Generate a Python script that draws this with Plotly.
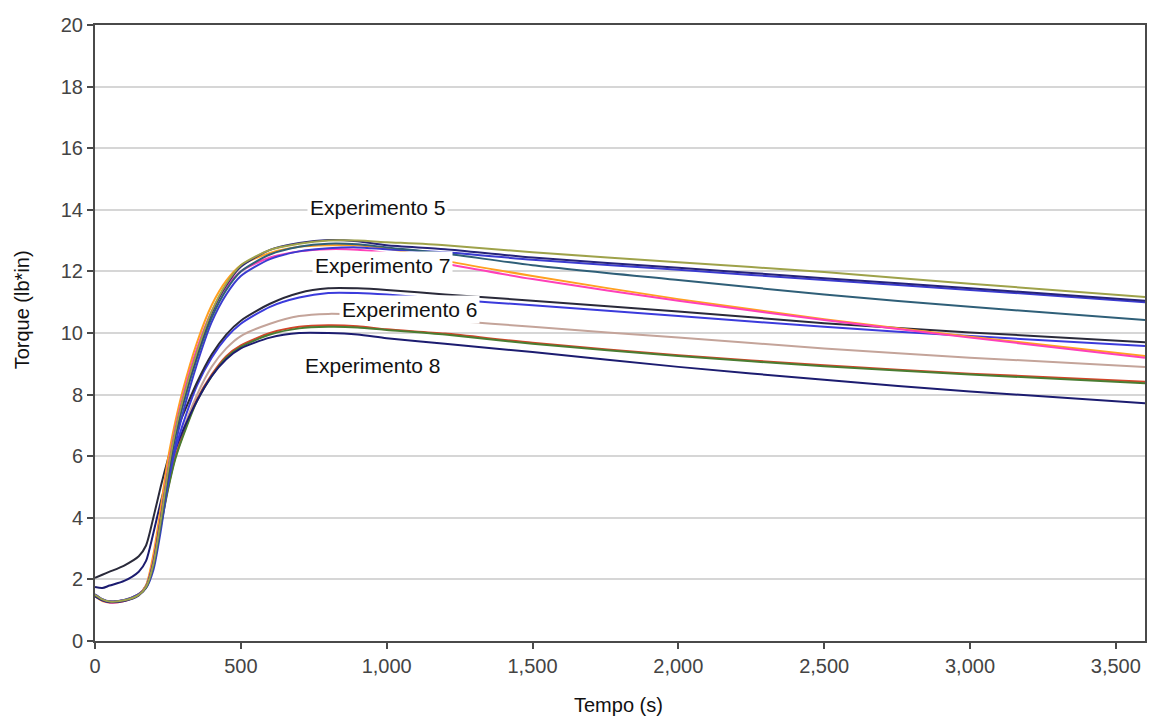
import plotly.graph_objects as go

# Time points (s)
tempo = [0, 25, 50, 100, 150, 175, 200, 225, 250, 275, 300, 350, 400, 450, 500,
         600, 700, 800, 900, 1000, 1200, 1500, 2000, 2500, 3000, 3600]

# Experimento 5 / 7 group
exp_oliva = [1.50, 1.35, 1.28, 1.32, 1.50, 1.75, 2.50, 3.90, 5.50, 6.80, 7.80, 9.40, 10.70, 11.60, 12.20,
             12.70, 12.90, 13.00, 13.00, 12.95, 12.85, 12.62, 12.30, 11.98, 11.60, 11.17]
exp_marinho = [1.45, 1.32, 1.26, 1.30, 1.48, 1.75, 2.55, 3.95, 5.45, 6.75, 7.75, 9.35, 10.65, 11.55, 12.15,
               12.70, 12.92, 13.02, 12.98, 12.85, 12.72, 12.45, 12.12, 11.78, 11.45, 11.05]
exp_azulpetroleo = [1.48, 1.33, 1.27, 1.31, 1.50, 1.72, 2.40, 3.70, 5.30, 6.60, 7.60, 9.20, 10.50, 11.40, 12.00,
                    12.55, 12.80, 12.90, 12.88, 12.78, 12.58, 12.20, 11.72, 11.25, 10.85, 10.42]
exp_magenta = [1.50, 1.32, 1.25, 1.30, 1.50, 1.75, 2.60, 4.00, 5.60, 6.90, 7.90, 9.50, 10.70, 11.50, 12.00,
               12.45, 12.65, 12.72, 12.70, 12.60, 12.25, 11.75, 11.05, 10.42, 9.85, 9.20]
exp_laranja = [1.45, 1.30, 1.25, 1.30, 1.50, 1.80, 2.80, 4.30, 5.90, 7.10, 8.10, 9.70, 10.90, 11.70, 12.20,
               12.60, 12.80, 12.85, 12.85, 12.75, 12.35, 11.85, 11.10, 10.45, 9.88, 9.25]
exp_azul_a = [1.52, 1.36, 1.29, 1.33, 1.52, 1.72, 2.30, 3.55, 5.10, 6.35, 7.35, 9.00, 10.35, 11.25, 11.85,
              12.40, 12.65, 12.75, 12.78, 12.72, 12.62, 12.38, 12.05, 11.72, 11.40, 11.00]

# Experimento 6 group
exp_preto_b = [2.05, 2.15, 2.25, 2.45, 2.75, 3.10, 4.00, 5.00, 5.90, 6.70, 7.30, 8.40, 9.30, 9.95, 10.40,
               10.95, 11.30, 11.45, 11.45, 11.40, 11.25, 11.05, 10.70, 10.32, 10.02, 9.70]
exp_azul_b = [1.50, 1.35, 1.28, 1.32, 1.50, 1.80, 2.60, 3.80, 5.10, 6.20, 7.00, 8.30, 9.20, 9.85, 10.30,
              10.85, 11.15, 11.30, 11.30, 11.25, 11.10, 10.90, 10.55, 10.20, 9.90, 9.58]
exp_castanho = [1.52, 1.36, 1.29, 1.33, 1.52, 1.78, 2.55, 3.75, 5.00, 6.00, 6.80, 8.00, 8.90, 9.50, 9.90,
                10.30, 10.55, 10.62, 10.60, 10.55, 10.42, 10.20, 9.85, 9.50, 9.20, 8.90]

# Experimento 8 group
exp_verde = [1.48, 1.33, 1.27, 1.31, 1.50, 1.76, 2.50, 3.70, 4.90, 5.90, 6.60, 7.80, 8.60, 9.20, 9.55,
             9.95, 10.15, 10.20, 10.18, 10.10, 9.95, 9.65, 9.25, 8.92, 8.65, 8.37]
exp_vermelho = [1.50, 1.34, 1.28, 1.32, 1.52, 1.78, 2.55, 3.75, 4.95, 5.95, 6.65, 7.85, 8.65, 9.25, 9.60,
                10.00, 10.20, 10.25, 10.22, 10.12, 9.98, 9.68, 9.28, 8.95, 8.68, 8.42]
exp_marinho_c = [1.75, 1.72, 1.80, 1.95, 2.25, 2.60, 3.50, 4.50, 5.40, 6.20, 6.80, 7.80, 8.60, 9.15, 9.50,
                 9.85, 10.00, 10.00, 9.95, 9.83, 9.65, 9.38, 8.90, 8.48, 8.10, 7.72]

series = [
    ("Castanho", exp_castanho, "#c4a49a"),
    ("Vermelho", exp_vermelho, "#d2452a"),
    ("Verde", exp_verde, "#4a7d32"),
    ("Marinho C", exp_marinho_c, "#1c1c70"),
    ("Azul B", exp_azul_b, "#3b3bdc"),
    ("Preto B", exp_preto_b, "#2a2a3a"),
    ("Laranja", exp_laranja, "#ffa020"),
    ("Magenta", exp_magenta, "#ff40b8"),
    ("Azul A", exp_azul_a, "#3b3bd0"),
    ("Azul petroleo", exp_azulpetroleo, "#2f5f78"),
    ("Marinho", exp_marinho, "#26237a"),
    ("Oliva", exp_oliva, "#9ea24a"),
]

fig = go.Figure()
for name, vals, col in series:
    fig.add_trace(go.Scatter(x=tempo, y=vals, mode="lines", name=name,
                             line=dict(color=col, width=2, shape="spline", smoothing=0.7),
                             showlegend=False, hoverinfo="skip"))

labels = [
    ("Experimento 5", 967, 14.09),
    ("Experimento 7", 984, 12.2),
    ("Experimento 6", 1077, 10.75),
    ("Experimento 8", 950, 8.96),
]
for txt, lx, ly in labels:
    fig.add_annotation(x=lx, y=ly, xref="x", yref="y", text=txt, showarrow=False,
                       font=dict(family="Liberation Sans, Arial", size=21, color="#111"),
                       bgcolor="white", borderpad=2)

fig.add_annotation(x=0.499, y=-0.104, xref="paper", yref="paper", text="Tempo (s)",
                   showarrow=False, yanchor="middle",
                   font=dict(family="Liberation Sans, Arial", size=20, color="#111"))
fig.add_annotation(x=-0.0694, y=0.537, xref="paper", yref="paper", text="Torque (lb*in)",
                   showarrow=False, textangle=-90, xanchor="center", yanchor="middle",
                   font=dict(family="Liberation Sans, Arial", size=20, color="#111"))

fig.update_xaxes(range=[0, 3600], tickvals=[0, 500, 1000, 1500, 2000, 2500, 3000, 3500],
                 tickformat=",d", showgrid=False, zeroline=False,
                 showline=True, linecolor="#4a4a4a", linewidth=2, mirror=True,
                 ticks="outside", ticklen=6, tickwidth=2, tickcolor="#4a4a4a",
                 tickfont=dict(family="Liberation Sans, Arial", size=20, color="#444"))
fig.update_yaxes(range=[0, 20], dtick=2, showgrid=True, gridcolor="#d6d6d6", gridwidth=1.5,
                 zeroline=False, showline=True, linecolor="#4a4a4a", linewidth=2, mirror=True,
                 ticks="outside", ticklen=6, tickwidth=2, tickcolor="#4a4a4a",
                 tickfont=dict(family="Liberation Sans, Arial", size=20, color="#444"))

fig.update_layout(width=1150, height=719, margin=dict(l=95, r=3, t=25, b=78),
                  plot_bgcolor="white", paper_bgcolor="white")

fig.write_html("out.html")
